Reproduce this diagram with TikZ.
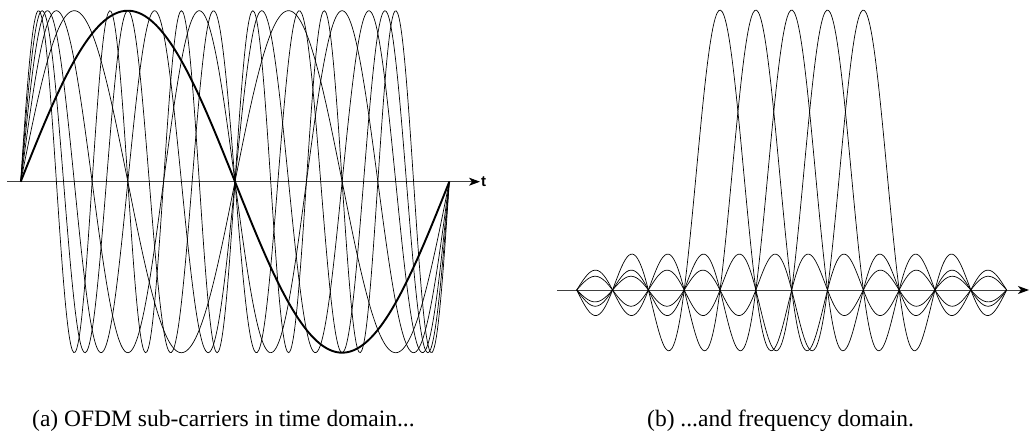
\documentclass[tikz,border=0pt]{standalone}
\usepackage{fontspec}
\setmainfont{Liberation Serif}
\newfontfamily\axfont{Liberation Sans}
\usetikzlibrary{arrows.meta}
\begin{document}
\begin{tikzpicture}[x=1pt,y=-1pt,
  wave/.style={line width=0.7pt,black},
  thickwave/.style={line width=1.9pt,black},
  axis/.style={line width=0.9pt,black!75,-{Stealth[length=11pt,width=8pt,inset=3pt,black]}},
  caption/.style={anchor=base west,inner sep=0pt,font=\fontsize{23.5}{27}\selectfont}]
\useasboundingbox (0,0) rectangle (1030,435);
% ---- (a) time domain ----
\coordinate (ta) at (7.3,181.7);
\coordinate (tb) at (480,181.7);
\draw[axis] (ta) -- (tb);
\node[anchor=west,inner sep=1pt,font=\axfont\bfseries\fontsize{15}{17}\selectfont] (tl) at (tb) {t};
\foreach \k in {2,...,6}
  \draw[wave] plot[domain=0:360,samples=300,smooth] ({20.7+\x/360*428.6},{181.7-171*sin(\k*\x)});
\draw[thickwave] plot[domain=0:360,samples=150,smooth] ({20.7+\x/360*428.6},{181.7-171*sin(\x)});
% ---- (b) frequency domain ----
\coordinate (fa) at (557,290);
\coordinate (fb) at (1029,290);
\draw[axis] (fa) -- (fb);
\foreach \c in {4,...,8}
  \draw[wave] plot[domain=0:12,samples=240,smooth] ({576.7+35.83*\x},{290-280*sin(180*(\x-\c))/(pi*(\x-\c))});
% ---- captions ----
\node[caption] (capa) at (32,426) {(a) OFDM sub-carriers in time domain...};
\node[caption] (capb) at (647,426) {(b) ...and frequency domain.};
\end{tikzpicture}
\end{document}
